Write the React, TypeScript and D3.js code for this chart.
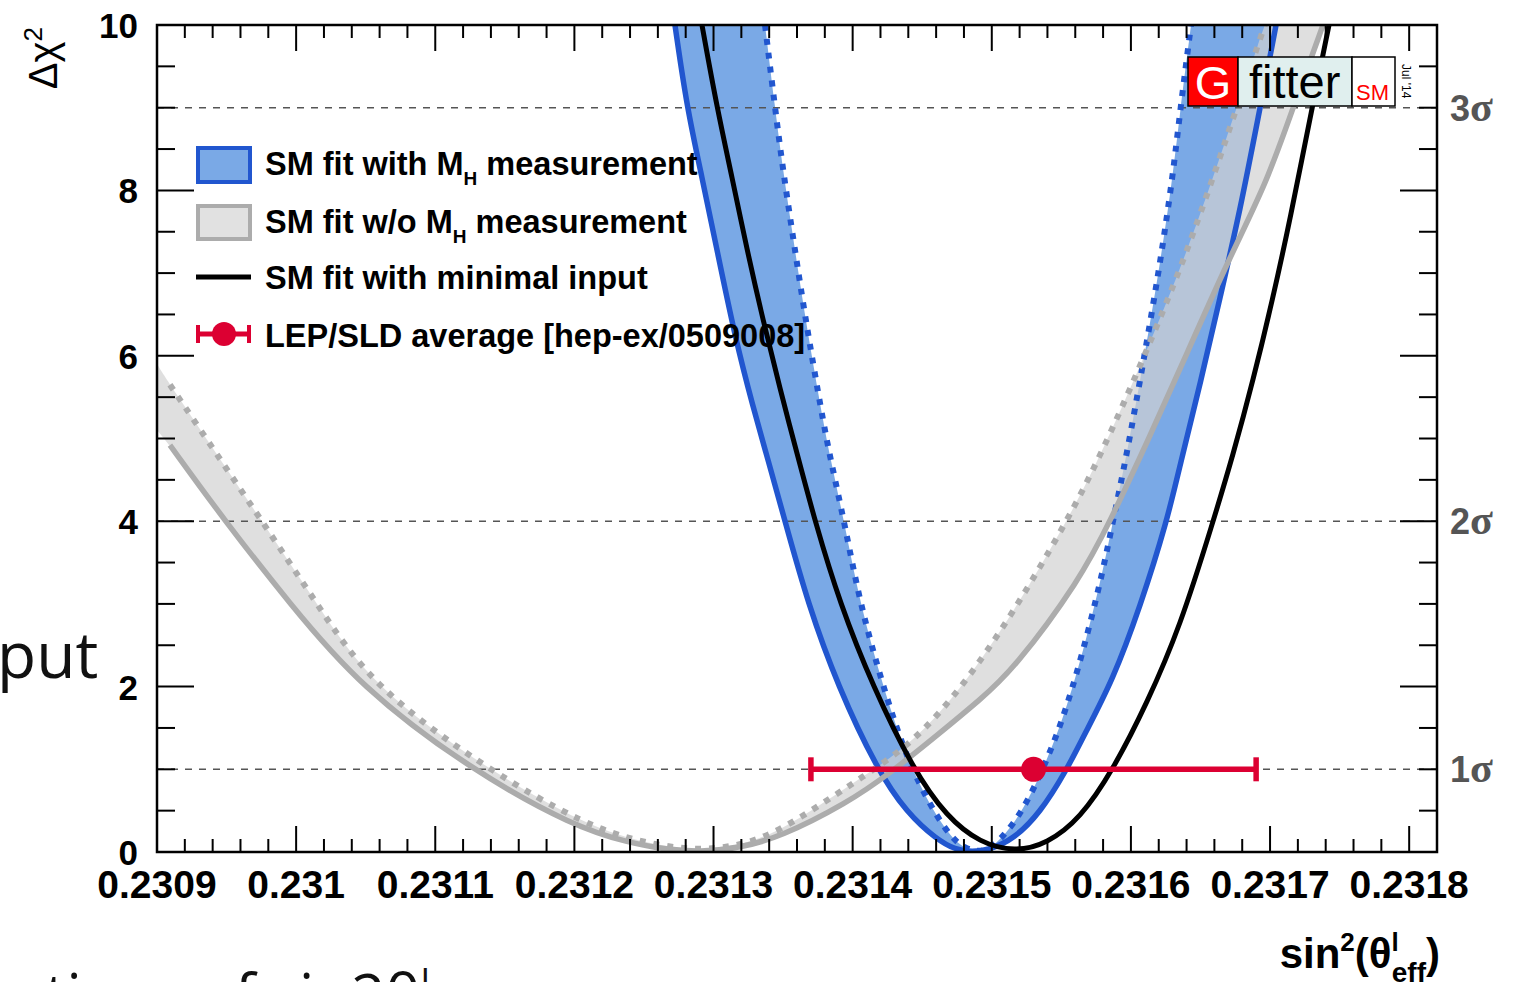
import React from 'react';
import * as d3 from 'd3';

type Pt = [number, number];

// Axis ticks and labels
const xTickLabels = ['0.2309', '0.231', '0.2311', '0.2312', '0.2313', '0.2314', '0.2315', '0.2316', '0.2317', '0.2318'];
const yTickLabels = ['0', '2', '4', '6', '8', '10'];
const sigmaLevels = [1, 4, 9];
const sigmaNames = ['1', '2', '3'];

// SM fit with M_H measurement: outer (solid) and inner (dotted) profile curves
const withMhOuter: Pt[] = [
  [0.2312723, 10.0], [0.2312809, 9.0], [0.2312917, 8.16], [0.2313025, 7.28], [0.2313154, 6.23],
  [0.2313284, 5.38], [0.2313392, 4.74], [0.2313514, 4.0], [0.2313679, 3.0], [0.2313895, 2.0],
  [0.2314175, 1.0], [0.2314391, 0.47], [0.2314606, 0.15], [0.2314736, 0.03], [0.2314858, 0.0],
  [0.2314987, 0.03], [0.2315153, 0.15], [0.2315347, 0.47], [0.2315541, 1.0], [0.2315656, 1.39],
  [0.2315871, 2.08], [0.2316065, 2.96], [0.2316259, 3.99], [0.2316367, 4.78], [0.2316497, 5.65],
  [0.231664, 6.7], [0.2316784, 7.75], [0.2316928, 9.0], [0.2317021, 9.8], [0.2317043, 10.0],
];
const withMhInner: Pt[] = [
  [0.231337, 10.0], [0.2313442, 9.0], [0.2313499, 8.25], [0.2313571, 7.44], [0.2313643, 6.64],
  [0.2313715, 5.91], [0.2313787, 5.22], [0.2313837, 4.78], [0.2313945, 3.95], [0.2314053, 3.0],
  [0.2314218, 2.0], [0.2314412, 1.0], [0.2314678, 0.21], [0.2314808, 0.04], [0.2314908, 0.0],
  [0.2315009, 0.05], [0.2315203, 0.42], [0.2315397, 1.1], [0.2315541, 1.75], [0.2315684, 2.6],
  [0.2315799, 3.4], [0.2315871, 4.0], [0.2315972, 4.82], [0.2316087, 5.9], [0.2316209, 7.1],
  [0.2316303, 8.2], [0.2316353, 8.95], [0.2316432, 10.0],
];

// SM fit without M_H measurement
const noMhOuter: Pt[] = [
  [0.2309, 5.1], [0.2309093, 4.92], [0.2309489, 4.0], [0.2309956, 3.0], [0.2310459, 2.0],
  [0.231125, 1.0], [0.2312004, 0.3], [0.23124, 0.11], [0.2312658, 0.03], [0.2312903, 0.0],
  [0.231319, 0.05], [0.2313478, 0.18], [0.2313959, 0.59], [0.2314268, 0.95], [0.2314628, 1.44],
  [0.2314915, 1.84], [0.2315153, 2.2], [0.2315634, 3.29], [0.231585, 4.0], [0.2316116, 4.95],
  [0.2316403, 6.03], [0.2316712, 7.2], [0.2316978, 8.1], [0.2317165, 9.0], [0.2317373, 9.96],
  [0.231738, 10.0],
];
const noMhInner: Pt[] = [
  [0.2309, 5.9], [0.2309093, 5.65], [0.2309755, 4.0], [0.231015, 3.0], [0.2310545, 2.0],
  [0.2311372, 1.0], [0.2312076, 0.33], [0.2312472, 0.12], [0.2312903, 0.0], [0.2313334, 0.12],
  [0.2313715, 0.51], [0.2314074, 0.91], [0.2314434, 1.32], [0.2314793, 2.0], [0.2315153, 2.89],
  [0.2315541, 4.0], [0.2315778, 4.78], [0.2316087, 5.95], [0.2316403, 7.24], [0.2316691, 8.65],
  [0.2316949, 9.94], [0.2316964, 10.0],
];

// SM fit with minimal input
const minimalInput: Pt[] = [
  [0.2312917, 10.0], [0.2313025, 9.0], [0.2313133, 8.16], [0.2313241, 7.28], [0.2313356, 6.43],
  [0.2313478, 5.6], [0.23136, 4.82], [0.2313729, 4.0], [0.2313909, 3.0], [0.2314146, 2.0],
  [0.2314434, 1.0], [0.2314678, 0.42], [0.2314915, 0.11], [0.2315167, 0.0], [0.2315397, 0.1],
  [0.2315634, 0.4], [0.2315871, 0.99], [0.2316116, 1.8], [0.2316353, 2.72], [0.231659, 3.99],
  [0.2316734, 4.8], [0.2316878, 5.7], [0.2317021, 6.7], [0.2317143, 7.64], [0.2317302, 9.0],
  [0.2317424, 10.0],
];

// LEP/SLD average
const lepSldValue = 0.23153;
const lepSldError = 0.00016;
const lepSldChi2 = 1;

const legendLabels = ['SM fit with M', 'SM fit w/o M', 'SM fit with minimal input', 'LEP/SLD average [hep-ex/0509008]'];

const BLUE_LINE = '#2156cf';
const BLUE_FILL = '#7aa9e6';
const GRAY_LINE = '#acacac';
const GRAY_FILL = '#d2d2d2';
const RED = '#dc0032';
const SANS = '"Liberation Sans", Arial, Helvetica, sans-serif';

export default function App() {
  const W = 1521;
  const H = 982;
  const P = { x0: 157, x1: 1437, y0: 25, y1: 852 };

  const x = d3.scaleLinear().domain([0.2309, 0.23182]).range([P.x0, P.x1]);
  const y = d3.scaleLinear().domain([0, 10]).range([P.y1, P.y0]);
  const line = d3
    .line<Pt>()
    .x((p) => x(p[0]))
    .y((p) => y(p[1]))
    .curve(d3.curveBasis);

  // region above a curve, closed through the top of the frame
  const closedAbove = (pts: Pt[]) => {
    const a = pts[0];
    const b = pts[pts.length - 1];
    return `${line(pts)}L${x(b[0])},${P.y0 - 20}L${x(a[0])},${P.y0 - 20}Z`;
  };
  const band = (outer: Pt[], inner: Pt[]) => closedAbove(outer) + closedAbove(inner);
  const lineStart = 0.2309093;
  const trimmed = (pts: Pt[]) => pts.filter((p) => p[0] >= lineStart - 1e-9);

  const xMinor = d3.range(0, 47).map((i) => ({ v: 0.2309 + i * 0.00002, major: i % 5 === 0, i }));
  const yMinor = d3.range(0, 21).map((i) => ({ v: i * 0.5, major: i % 4 === 0 }));

  const dotted = '6 8';

  return (
    <svg
      width={W}
      height={H}
      viewBox={`0 0 ${W} ${H}`}
      style={{ position: 'absolute', left: 0, top: 0, background: '#fff' }}
      fontFamily={SANS}
    >
      <defs>
        <clipPath id="plotClip">
          <rect x={P.x0} y={P.y0} width={P.x1 - P.x0} height={P.y1 - P.y0} />
        </clipPath>
      </defs>
      <rect x={0} y={0} width={W} height={H} fill="#fff" />

      {/* slide text around the figure */}
      <text x={-3} y={678} fontSize={64} fontFamily='"Open Sans", sans-serif' fill="#111">
        put
      </text>
      <text x={45} y={1017} fontSize={60} fontFamily='"Open Sans", sans-serif' fill="#111">
        tions of sin2θ
        <tspan dy={-22} fontSize={36}>
          l
        </tspan>
      </text>

      <g clipPath="url(#plotClip)">
        {/* bands */}
        <path d={band(withMhOuter, withMhInner)} fill={BLUE_FILL} fillRule="evenodd" />
        <path d={band(noMhOuter, noMhInner)} fill={GRAY_FILL} fillOpacity={0.7} fillRule="evenodd" />

        {/* sigma reference lines */}
        {sigmaLevels.map((s) => (
          <line
            key={s}
            x1={P.x0}
            x2={P.x1}
            y1={y(s)}
            y2={y(s)}
            stroke="#555"
            strokeWidth={1.6}
            strokeDasharray="7 7"
          />
        ))}

        {/* curves */}
        <path d={line(withMhOuter) || ''} fill="none" stroke={BLUE_LINE} strokeWidth={5.5} />
        <path d={line(withMhInner) || ''} fill="none" stroke={BLUE_LINE} strokeWidth={6} strokeDasharray={dotted} />
        <path d={line(trimmed(noMhOuter)) || ''} fill="none" stroke={GRAY_LINE} strokeWidth={5.5} />
        <path d={line(trimmed(noMhInner)) || ''} fill="none" stroke={GRAY_LINE} strokeWidth={6} strokeDasharray={dotted} />
        <path d={line(minimalInput) || ''} fill="none" stroke="#000" strokeWidth={5} />

        {/* LEP/SLD average */}
        <line
          x1={x(lepSldValue - lepSldError)}
          x2={x(lepSldValue + lepSldError)}
          y1={y(lepSldChi2)}
          y2={y(lepSldChi2)}
          stroke={RED}
          strokeWidth={5.5}
        />
        {[lepSldValue - lepSldError, lepSldValue + lepSldError].map((v) => (
          <line key={v} x1={x(v)} x2={x(v)} y1={y(lepSldChi2) - 12} y2={y(lepSldChi2) + 12} stroke={RED} strokeWidth={5.5} />
        ))}
        <circle cx={x(lepSldValue)} cy={y(lepSldChi2)} r={12.5} fill={RED} />
      </g>

      {/* legend */}
      <g fontWeight="bold" fontSize={32.5} fill="#000">
        <rect x={198} y={148} width={52} height={34} fill={BLUE_FILL} stroke={BLUE_LINE} strokeWidth={4} />
        <rect x={198} y={206} width={52} height={33} fill="#e1e1e1" stroke={GRAY_LINE} strokeWidth={4} />
        <line x1={196} x2={251} y1={277} y2={277} stroke="#000" strokeWidth={5} />
        <line x1={197} x2={250} y1={334} y2={334} stroke={RED} strokeWidth={5} />
        <line x1={198} x2={198} y1={325} y2={343} stroke={RED} strokeWidth={4} />
        <line x1={249} x2={249} y1={325} y2={343} stroke={RED} strokeWidth={4} />
        <circle cx={224} cy={334} r={12} fill={RED} />

        <text x={265} y={175}>
          {legendLabels[0]}
          <tspan dy={10} fontSize={19}>
            H
          </tspan>
          <tspan dy={-10}> measurement</tspan>
        </text>
        <text x={265} y={233}>
          {legendLabels[1]}
          <tspan dy={10} fontSize={19}>
            H
          </tspan>
          <tspan dy={-10}> measurement</tspan>
        </text>
        <text x={265} y={289}>
          {legendLabels[2]}
        </text>
        <text x={265} y={347}>
          {legendLabels[3]}
        </text>
      </g>

      {/* ticks */}
      <g stroke="#000" strokeWidth={2}>
        {xMinor.map((t) => {
          const len = t.major ? 26 : 13;
          const xx = x(t.v);
          return (
            <g key={`xt${t.i}`}>
              <line x1={xx} x2={xx} y1={P.y1} y2={P.y1 - len} />
              <line x1={xx} x2={xx} y1={P.y0} y2={P.y0 + len} />
            </g>
          );
        })}
        {yMinor.map((t) => {
          const len = t.major ? 37 : 18;
          const yy = y(t.v);
          return (
            <g key={`yt${t.v}`}>
              <line x1={P.x0} x2={P.x0 + len} y1={yy} y2={yy} />
              <line x1={P.x1} x2={P.x1 - len} y1={yy} y2={yy} />
            </g>
          );
        })}
      </g>
      <rect x={P.x0} y={P.y0} width={P.x1 - P.x0} height={P.y1 - P.y0} fill="none" stroke="#000" strokeWidth={2.5} />

      {/* tick labels */}
      <g fontWeight="bold" fill="#000">
        {xTickLabels.map((lab, i) => (
          <text key={lab} x={x(0.2309 + i * 0.0001)} y={898} fontSize={39} textAnchor="middle">
            {lab}
          </text>
        ))}
        {yTickLabels.map((lab, i) => (
          <text key={lab} x={138} y={y(i * 2) + 13} fontSize={35} textAnchor="end">
            {lab}
          </text>
        ))}
      </g>

      {/* sigma labels */}
      <g fill="#555" fontWeight="bold">
        {sigmaLevels.map((s, i) => (
          <text key={s} x={1450} y={y(s) + 13} fontSize={36}>
            {sigmaNames[i]}
            <tspan fontFamily='"Liberation Serif", "DejaVu Serif", serif' fontSize={42}>
              σ
            </tspan>
          </text>
        ))}
      </g>

      {/* axis titles */}
      <text x={1440} y={968} fontSize={42} fontWeight="bold" textAnchor="end">
        sin
        <tspan dy={-17} fontSize={26}>
          2
        </tspan>
        <tspan dy={17}>(θ</tspan>
        <tspan dy={-17} fontSize={26}>
          l
        </tspan>
        <tspan dx={-7} dy={31} fontSize={28}>
          eff
        </tspan>
        <tspan dy={-14}>)</tspan>
      </text>
      <text transform="translate(57,27) rotate(-90)" fontSize={40} textAnchor="end">
        Δχ
        <tspan dy={-15} fontSize={26}>
          2
        </tspan>
      </text>

      {/* Gfitter logo */}
      <g>
        <rect x={1188} y={57} width={50} height={49} fill="#ff0000" stroke="#000" strokeWidth={1.5} />
        <rect x={1238} y={57} width={114} height={49} fill="#e0efee" stroke="#000" strokeWidth={1.5} />
        <rect x={1352} y={57} width={43} height={49} fill="#fff" stroke="#000" strokeWidth={1.5} />
        <text x={1213} y={99} fontSize={47} fill="#fff" textAnchor="middle">
          G
        </text>
        <text x={1249} y={98} fontSize={47} fill="#000">
          fitter
        </text>
        <text x={1356} y={100} fontSize={22} fill="#ff0000">
          SM
        </text>
        <text transform="translate(1402,64) rotate(90)" fontSize={12} fill="#000">
          Jul '14
        </text>
      </g>
    </svg>
  );
}
